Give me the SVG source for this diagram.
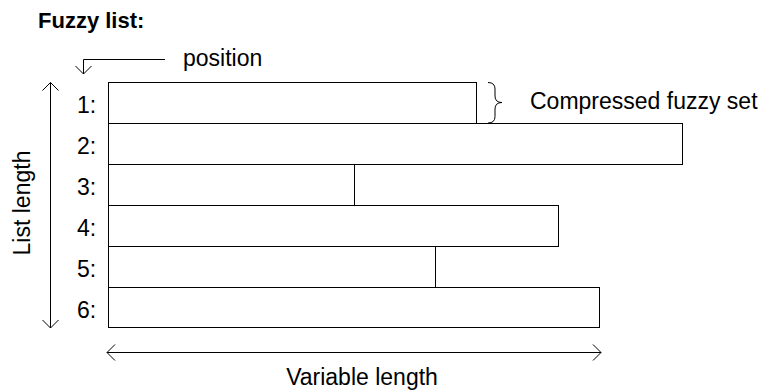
<svg xmlns="http://www.w3.org/2000/svg" width="761" height="390" viewBox="0 0 761 390">
<defs>
<style>
text{font-family:"Liberation Sans",Arial,sans-serif;font-size:23px;fill:#000}
.title{font-weight:bold;font-size:22px}
.box{fill:#fff;stroke:#000;stroke-width:1}
.ln{fill:none;stroke:#000;stroke-width:1}
</style>
<marker id="ah" viewBox="0 0 10 18" refX="9" refY="9" markerWidth="10" markerHeight="18" markerUnits="userSpaceOnUse" orient="auto-start-reverse">
<path d="M1,1 L9,9 L1,17" fill="none" stroke="#000" stroke-width="1"/>
</marker>
</defs>
<rect width="761" height="390" fill="#fff"/>
<text class="title" x="38" y="28">Fuzzy list:</text>
<g id="list">
<g id="row1"><rect class="box" x="108.5" y="82.5" width="368" height="41"/><text x="77" y="113">1:</text></g>
<g id="row2"><rect class="box" x="108.5" y="123.5" width="574" height="41"/><text x="77" y="154">2:</text></g>
<g id="row3"><rect class="box" x="108.5" y="164.5" width="246" height="41"/><text x="77" y="195">3:</text></g>
<g id="row4"><rect class="box" x="108.5" y="205.5" width="450" height="41"/><text x="77" y="236">4:</text></g>
<g id="row5"><rect class="box" x="108.5" y="246.5" width="327" height="41"/><text x="77" y="277">5:</text></g>
<g id="row6"><rect class="box" x="108.5" y="287.5" width="491" height="40"/><text x="77" y="318">6:</text></g>
</g>
<g id="labels">
<text x="183" y="66">position</text>
<text x="530" y="109">Compressed fuzzy set</text>
<text x="362" y="385" text-anchor="middle">Variable length</text>
<text transform="translate(30,203) rotate(-90)" text-anchor="middle">List length</text>
</g>
<g id="connectors">
<path class="ln" d="M165,59.5 H83.5 V74" marker-end="url(#ah)"/>
<path class="ln" d="M50.5,82.5 V328" marker-start="url(#ah)" marker-end="url(#ah)"/>
<path class="ln" d="M107,352.5 H601" marker-start="url(#ah)" marker-end="url(#ah)"/>
<path class="ln" d="M488,82.5 Q495,82.5 495,89 V96 Q495,102.5 502,102.5 Q495,102.5 495,109 V116.5 Q495,123 488,123"/>
</g>
</svg>
